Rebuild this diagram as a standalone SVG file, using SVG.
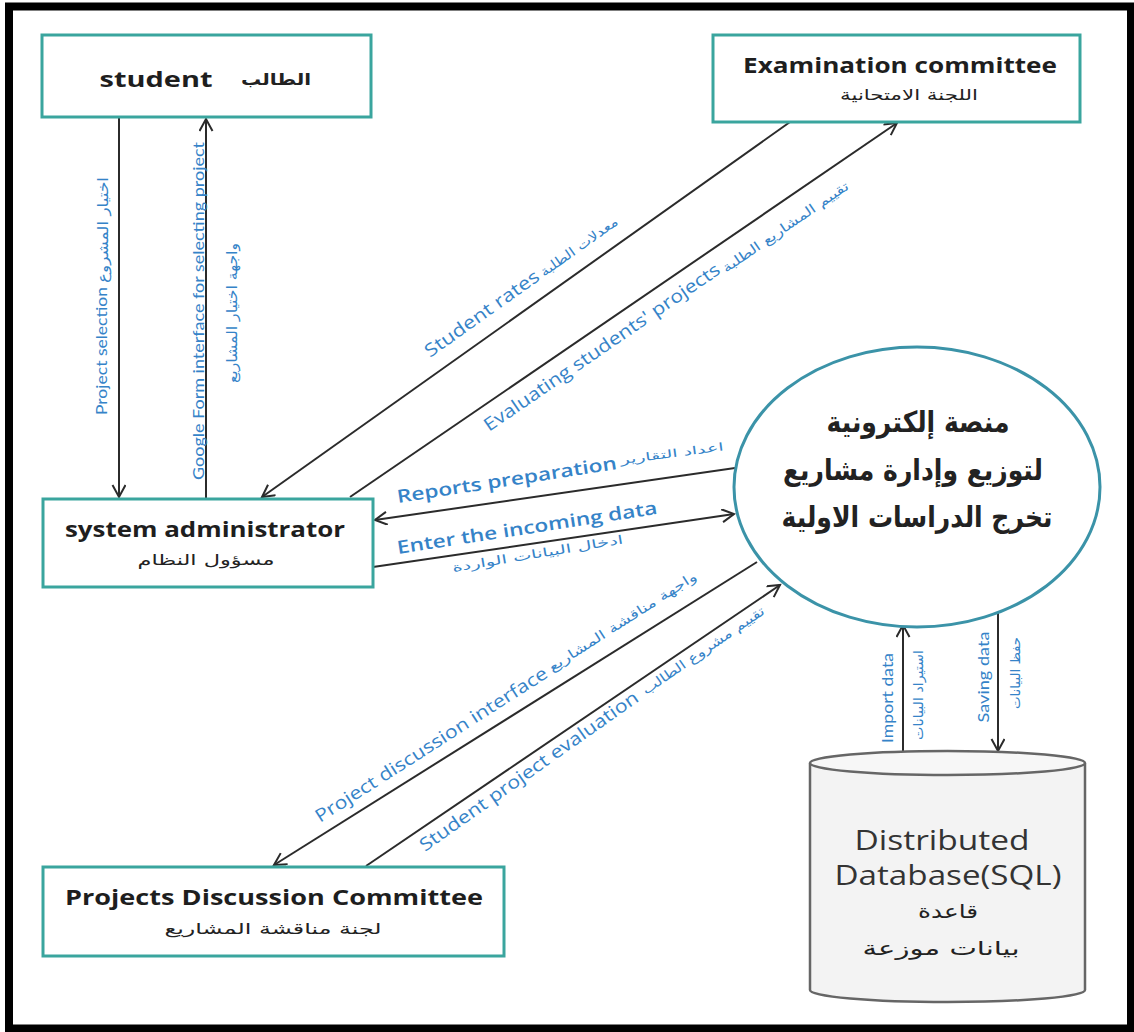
<svg xmlns="http://www.w3.org/2000/svg" width="1134" height="1032" viewBox="0 0 1134 1032">
<defs>
<marker id="arr" markerUnits="userSpaceOnUse" markerWidth="16" markerHeight="16" refX="13" refY="7" orient="auto">
<path d="M1,0.5 L13,7 L1,13.5" fill="none" stroke="#2b2b2b" stroke-width="2"/>
</marker>
<style>
.box{fill:#fff;stroke:#3aa59e;stroke-width:3}
.nt{font-family:"Open Sans","DejaVu Sans",sans-serif;font-weight:bold;fill:#1e1e1e;text-anchor:middle}
.ar{font-family:"DejaVu Sans",sans-serif;fill:#222;text-anchor:middle}
.ln{stroke:#2b2b2b;stroke-width:2;fill:none;marker-end:url(#arr)}
.lb{font-family:"Open Sans","DejaVu Sans",sans-serif;fill:#3583c8}
.lv{font-family:"Lato","DejaVu Sans",sans-serif;fill:#3583c8;text-anchor:middle}
.la{font-family:"DejaVu Sans",sans-serif;fill:#3583c8}
.db{font-family:"Open Sans","DejaVu Sans",sans-serif;fill:#333;text-anchor:middle}
</style>
</defs>
<rect x="0" y="0" width="1134" height="1032" fill="#fff"/>
<rect x="9" y="6.5" width="1122" height="1022" fill="none" stroke="#000" stroke-width="8"/>

<g id="connectors">
<line class="ln" x1="119" y1="118" x2="119" y2="497"/>
<line class="ln" x1="206" y1="499" x2="206" y2="119"/>
<line class="ln" x1="790" y1="122" x2="262" y2="497"/>
<line class="ln" x1="350" y1="497" x2="897" y2="123"/>
<line class="ln" x1="735" y1="468" x2="375" y2="520"/>
<line class="ln" x1="373" y1="567" x2="734" y2="514"/>
<line class="ln" x1="757" y1="562" x2="274" y2="865"/>
<line class="ln" x1="366" y1="866" x2="780" y2="585"/>
<line class="ln" x1="903" y1="752" x2="903" y2="625"/>
<line class="ln" x1="998" y1="608" x2="998" y2="751"/>

<text class="lv" font-size="16" transform="translate(107,351) rotate(-90)" textLength="128" lengthAdjust="spacingAndGlyphs">Project selection</text>
<text class="la" font-size="14" text-anchor="middle" transform="translate(108,230) rotate(-90)" textLength="106" lengthAdjust="spacingAndGlyphs">اختيار المشروع</text>
<text class="lv" font-size="16" transform="translate(204,311) rotate(-90)" textLength="338" lengthAdjust="spacingAndGlyphs">Google Form interface for selecting project</text>
<text class="la" font-size="14" text-anchor="middle" transform="translate(237,313) rotate(-90)" textLength="140" lengthAdjust="spacingAndGlyphs">واجهة اختيار المشاريع</text>

<text class="lb" font-size="18" transform="translate(430,358) rotate(-35.4)" textLength="136" lengthAdjust="spacingAndGlyphs">Student rates</text>
<text class="la" font-size="13" transform="translate(544,277) rotate(-35.4)" textLength="92" lengthAdjust="spacingAndGlyphs">معدلات الطلبة</text>

<text class="lb" font-size="18" transform="translate(489,432) rotate(-34.4)" textLength="282" lengthAdjust="spacingAndGlyphs">Evaluating students' projects</text>
<text class="la" font-size="13" transform="translate(726,273) rotate(-34.4)" textLength="150" lengthAdjust="spacingAndGlyphs">تقييم المشاريع الطلبة</text>

<text class="lb" font-size="18" font-weight="600" transform="translate(398,503) rotate(-8.8)" textLength="222" lengthAdjust="spacingAndGlyphs">Reports preparation</text>
<text class="la" font-size="11" transform="translate(621,464) rotate(-7.5)" textLength="104" lengthAdjust="spacingAndGlyphs">اعداد التقارير</text>

<text class="lb" font-size="18" font-weight="600" transform="translate(398,554) rotate(-8.8)" textLength="263" lengthAdjust="spacingAndGlyphs">Enter the incoming data</text>
<text class="la" font-size="12" transform="translate(453,572) rotate(-9.5)" textLength="173" lengthAdjust="spacingAndGlyphs">ادخال البيانات الواردة</text>

<text class="lb" font-size="18" transform="translate(320,823) rotate(-32.6)" textLength="272" lengthAdjust="spacingAndGlyphs">Project discussion interface</text>
<text class="la" font-size="13" transform="translate(552,672) rotate(-32.6)" textLength="173" lengthAdjust="spacingAndGlyphs">واجهة مناقشة المشاريع</text>

<text class="lb" font-size="18" transform="translate(425,852) rotate(-35.2)" textLength="263" lengthAdjust="spacingAndGlyphs">Student project evaluation</text>
<text class="la" font-size="13" transform="translate(646,695) rotate(-34.4)" textLength="145" lengthAdjust="spacingAndGlyphs">تقييم مشروع الطالب</text>

<text class="lv" font-size="16" transform="translate(893,698) rotate(-90)" textLength="90" lengthAdjust="spacingAndGlyphs">Import data</text>
<text class="la" font-size="13" text-anchor="middle" transform="translate(923,695) rotate(-90)" textLength="90" lengthAdjust="spacingAndGlyphs">استيراد البيانات</text>
<text class="lv" font-size="16" transform="translate(989,677) rotate(-90)" textLength="91" lengthAdjust="spacingAndGlyphs">Saving data</text>
<text class="la" font-size="13" text-anchor="middle" transform="translate(1020,673) rotate(-90)" textLength="72" lengthAdjust="spacingAndGlyphs">حفظ البيانات</text>
</g>

<g id="student">
<rect class="box" x="42" y="35" width="329" height="82"/>
<text class="nt" x="156" y="87" font-size="21" textLength="113" lengthAdjust="spacingAndGlyphs">student</text>
<text class="ar" x="276" y="85" font-size="16" font-weight="bold" textLength="70" lengthAdjust="spacingAndGlyphs">الطالب</text>
</g>

<g id="examination-committee">
<rect class="box" x="713" y="35" width="367" height="87"/>
<text class="nt" x="900" y="73" font-size="21" textLength="314" lengthAdjust="spacingAndGlyphs">Examination committee</text>
<text class="ar" x="909" y="100" font-size="15" textLength="138" lengthAdjust="spacingAndGlyphs">اللجنة الامتحانية</text>
</g>

<g id="system-administrator">
<rect class="box" x="43" y="499" width="330" height="88"/>
<text class="nt" x="205" y="537" font-size="21" textLength="280" lengthAdjust="spacingAndGlyphs">system administrator</text>
<text class="ar" x="206" y="565" font-size="15" textLength="137" lengthAdjust="spacingAndGlyphs">مسؤول النظام</text>
</g>

<g id="projects-discussion-committee">
<rect class="box" x="43" y="867" width="461" height="89"/>
<text class="nt" x="274" y="905" font-size="21" textLength="418" lengthAdjust="spacingAndGlyphs">Projects Discussion Committee</text>
<text class="ar" x="273" y="934" font-size="15" textLength="217" lengthAdjust="spacingAndGlyphs">لجنة مناقشة المشاريع</text>
</g>

<g id="platform">
<ellipse cx="917" cy="487" rx="183" ry="140" fill="#fff" stroke="#3b93a8" stroke-width="3"/>
<text class="ar" x="918" y="432" font-size="29" font-weight="bold" textLength="183" lengthAdjust="spacingAndGlyphs">منصة إلكترونية</text>
<text class="ar" x="913" y="480" font-size="29" font-weight="bold" textLength="260" lengthAdjust="spacingAndGlyphs">لتوزيع وإدارة مشاريع</text>
<text class="ar" x="917" y="527" font-size="29" font-weight="bold" textLength="271" lengthAdjust="spacingAndGlyphs">تخرج الدراسات الاولية</text>
</g>

<g id="database">
<path d="M810,763 L810,990 A137.5,12 0 0 0 1085,990 L1085,763" fill="#f3f3f3" stroke="#666" stroke-width="2.5"/>
<ellipse cx="947.5" cy="763" rx="137.5" ry="12" fill="#f7f7f7" stroke="#666" stroke-width="2.5"/>
<text class="db" x="942" y="850" font-size="27" textLength="175" lengthAdjust="spacingAndGlyphs">Distributed</text>
<text class="db" x="948" y="885" font-size="27" textLength="227" lengthAdjust="spacingAndGlyphs">Database(SQL)</text>
<text class="ar" x="948" y="918" font-size="19" fill="#333" textLength="60" lengthAdjust="spacingAndGlyphs">قاعدة</text>
<text class="ar" x="941" y="955" font-size="19" fill="#333" textLength="157" lengthAdjust="spacingAndGlyphs">بيانات موزعة</text>
</g>
</svg>
